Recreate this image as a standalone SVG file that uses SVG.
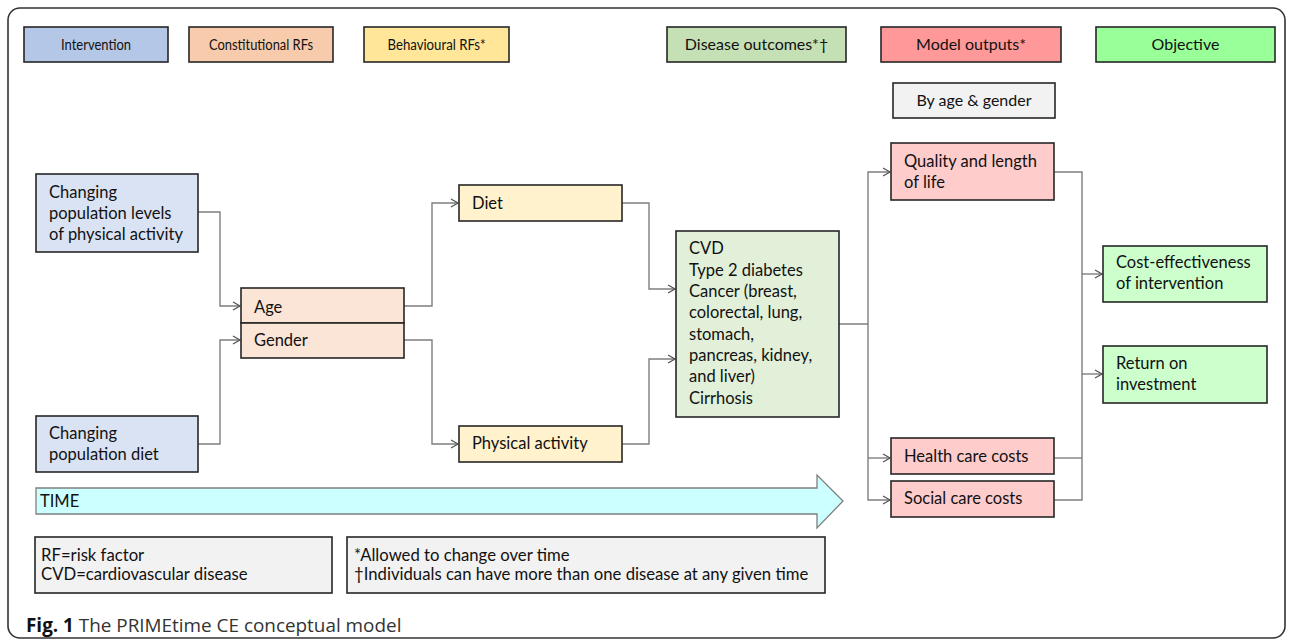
<svg xmlns="http://www.w3.org/2000/svg" width="1292" height="639" viewBox="0 0 1292 639">
<style>
  .box { stroke: #262626; stroke-width: 1.6; }
  .t { font-family: Lato, "Liberation Sans", sans-serif; font-size: 16.5px; fill: #111; }
  .h { font-family: Lato, "Liberation Sans", sans-serif; font-size: 15.5px; fill: #111; text-anchor: middle; }
  .hr { font-family: Lato, "Liberation Sans", sans-serif; font-size: 16px; fill: #111; text-anchor: middle; }
  .lg { font-family: Lato, "Liberation Sans", sans-serif; font-size: 16.7px; fill: #111; }
  .conn { fill: none; stroke: #7f7f7f; stroke-width: 1.4; }
  .cap { font-family: "Open Sans", "Liberation Sans", sans-serif; font-size: 18.9px; fill: #333; }
</style>
<defs>
  <marker id="arr" markerWidth="10" markerHeight="10" refX="8" refY="5" orient="auto" markerUnits="userSpaceOnUse">
    <path d="M1,1 L8,5 L1,9" fill="none" stroke="#555" stroke-width="1.3"/>
  </marker>
</defs>
<rect x="0" y="0" width="1292" height="639" fill="#fff"/>
<rect id="frame" x="8" y="8" width="1277" height="630" rx="12" ry="12" fill="none" stroke="#333" stroke-width="1.6"/>

<!-- Legend header -->
<g id="hdr-intervention"><rect class="box" x="24" y="27" width="144" height="35" fill="#B4C7E7"/><text class="h" x="96" y="50" textLength="70" lengthAdjust="spacingAndGlyphs">Intervention</text></g>
<g id="hdr-constitutional"><rect class="box" x="189" y="27" width="144" height="35" fill="#F8CBAD"/><text class="h" x="261" y="50" textLength="104" lengthAdjust="spacingAndGlyphs">Constitutional RFs</text></g>
<g id="hdr-behavioural"><rect class="box" x="364" y="27" width="145" height="35" fill="#FFE699"/><text class="h" x="436.5" y="50" textLength="98" lengthAdjust="spacingAndGlyphs">Behavioural RFs*</text></g>
<g id="hdr-disease"><rect class="box" x="667" y="27" width="179" height="35" fill="#C5E0B4"/><text class="hr" x="756.5" y="50">Disease outcomes*†</text></g>
<g id="hdr-model"><rect class="box" x="881" y="27" width="180" height="35" fill="#FF9999"/><text class="hr" x="971" y="50">Model outputs*</text></g>
<g id="hdr-objective"><rect class="box" x="1096" y="27" width="179" height="35" fill="#99FF99"/><text class="hr" x="1185.5" y="50">Objective</text></g>
<g id="hdr-byage"><rect class="box" x="893" y="83" width="162" height="35" fill="#F2F2F2"/><text class="hr" x="974" y="106">By age &amp; gender</text></g>

<!-- Connectors -->
<g id="connectors">
  <path class="conn" d="M198,212 H220 V306 H240" marker-end="url(#arr)"/>
  <path class="conn" d="M198,444 H220 V340 H240" marker-end="url(#arr)"/>
  <path class="conn" d="M404,306 H432 V203 H458" marker-end="url(#arr)"/>
  <path class="conn" d="M404,340 H432 V444 H458" marker-end="url(#arr)"/>
  <path class="conn" d="M622,203 H649 V289 H675" marker-end="url(#arr)"/>
  <path class="conn" d="M622,444 H649 V359 H675" marker-end="url(#arr)"/>
  <path class="conn" d="M839,324 H868 V172 H890" marker-end="url(#arr)"/>
  <path class="conn" d="M868,324 V500 H890" marker-end="url(#arr)"/>
  <path class="conn" d="M868,458 H890" marker-end="url(#arr)"/>
  <path class="conn" d="M1054,172 H1082 V500 H1054"/>
  <path class="conn" d="M1054,458 H1082"/>
  <path class="conn" d="M1082,274 H1102" marker-end="url(#arr)"/>
  <path class="conn" d="M1082,374 H1102" marker-end="url(#arr)"/>
</g>

<!-- Nodes -->
<g id="node-pa-intervention"><rect class="box" x="36" y="174" width="162" height="78" fill="#DAE3F3"/>
  <text class="t" x="49" y="198">Changing</text><text class="t" x="49" y="219">population levels</text><text class="t" x="49" y="240">of physical activity</text></g>
<g id="node-diet-intervention"><rect class="box" x="36" y="416" width="162" height="56" fill="#DAE3F3"/>
  <text class="t" x="49" y="439">Changing</text><text class="t" x="49" y="460">population diet</text></g>
<g id="node-age"><rect class="box" x="241" y="288" width="163" height="35" fill="#FBE5D6"/><text class="t" x="254" y="313">Age</text></g>
<g id="node-gender"><rect class="box" x="241" y="323" width="163" height="35" fill="#FBE5D6"/><text class="t" x="254" y="346">Gender</text></g>
<g id="node-diet"><rect class="box" x="459" y="185" width="163" height="36" fill="#FFF2CC"/><text class="t" x="472" y="209">Diet</text></g>
<g id="node-physical"><rect class="box" x="459" y="426" width="163" height="36" fill="#FFF2CC"/><text class="t" x="472" y="449">Physical activity</text></g>
<g id="node-disease"><rect class="box" x="676" y="231" width="163" height="186" fill="#E2F0D9"/>
  <text class="t" x="689" y="254">CVD</text>
  <text class="t" x="689" y="276">Type 2 diabetes</text>
  <text class="t" x="689" y="297">Cancer (breast,</text>
  <text class="t" x="689" y="318">colorectal, lung,</text>
  <text class="t" x="689" y="340">stomach,</text>
  <text class="t" x="689" y="361">pancreas, kidney,</text>
  <text class="t" x="689" y="382">and liver)</text>
  <text class="t" x="689" y="404">Cirrhosis</text></g>
<g id="node-quality"><rect class="box" x="891" y="143" width="163" height="57" fill="#FFCCCC"/>
  <text class="t" x="904" y="167">Quality and length</text><text class="t" x="904" y="188">of life</text></g>
<g id="node-health"><rect class="box" x="891" y="438" width="163" height="36" fill="#FFCCCC"/><text class="t" x="904" y="462">Health care costs</text></g>
<g id="node-social"><rect class="box" x="891" y="481" width="163" height="36" fill="#FFCCCC"/><text class="t" x="904" y="504">Social care costs</text></g>
<g id="node-costeff"><rect class="box" x="1103" y="246" width="164" height="56" fill="#CCFFCC"/>
  <text class="t" x="1116" y="268">Cost-effectiveness</text><text class="t" x="1116" y="289">of intervention</text></g>
<g id="node-roi"><rect class="box" x="1103" y="346" width="164" height="57" fill="#CCFFCC"/>
  <text class="t" x="1116" y="369">Return on</text><text class="t" x="1116" y="390">investment</text></g>

<!-- Time arrow -->
<g id="time-arrow">
  <path d="M36,488 H817 V475 L843,501 L817,528 V514 H36 Z" fill="#CCFFFF" stroke="#7f7f7f" stroke-width="1.3"/>
  <text class="t" x="40" y="507">TIME</text>
</g>

<!-- Legend notes -->
<g id="legend-abbrev"><rect class="box" x="35" y="537" width="297" height="56" fill="#F2F2F2"/>
  <text class="lg" x="41" y="561">RF=risk factor</text><text class="lg" x="41" y="580">CVD=cardiovascular disease</text></g>
<g id="legend-notes"><rect class="box" x="347" y="537" width="478" height="56" fill="#F2F2F2"/>
  <text class="lg" x="354" y="561">*Allowed to change over time</text><text class="lg" x="354" y="580">†Individuals can have more than one disease at any given time</text></g>

<text class="cap" x="26" y="632"><tspan font-weight="bold" fill="#111">Fig. 1</tspan> The PRIMEtime CE conceptual model</text>
</svg>
